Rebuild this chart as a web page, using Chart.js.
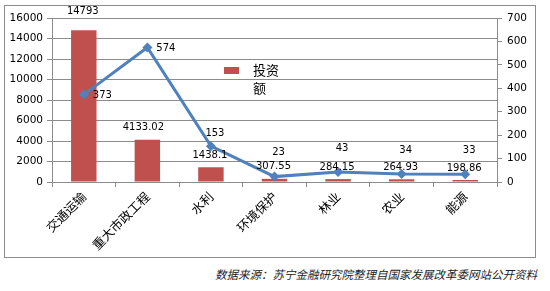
<!DOCTYPE html>
<html>
<head>
<meta charset="utf-8">
<script src="https://cdn.jsdelivr.net/npm/chart.js@4"></script>
<style>
  html, body { margin: 0; padding: 0; background: #fff; }
  body { width: 550px; height: 291px; position: relative; overflow: hidden; }
  #box {
    position: absolute; left: 4px; top: 5px;
    width: 530px; height: 251px;
    border: 1px solid #8c8c8c;
  }
  #legend {
    position: absolute; left: 224px; top: 61px;
    font: 13px "Noto Sans CJK SC", sans-serif; color: #000;
    line-height: 18px;
  }
  #legend .sw {
    position: absolute; left: 0; top: 6px; width: 15px; height: 7px;
    background: #C0504D;
  }
  #legend .tx { position: absolute; left: 29px; top: 0; width: 30px; }
  #source {
    position: absolute; left: 215px; top: 266px;
    font: italic 11.5px "Noto Sans CJK SC", sans-serif; color: #222;
    white-space: nowrap;
  }
</style>
</head>
<body>
<div id="box"><canvas id="chart" width="530" height="251"></canvas></div>
<div id="legend"><div class="sw"></div><div class="tx">投资额</div></div>
<div id="source">数据来源：苏宁金融研究院整理自国家发展改革委网站公开资料</div>
<script>
// ─── Data ─────────────────────────────────────────────────────────────────────

const categories = ["交通运输", "重大市政工程", "水利", "环境保护", "林业", "农业", "能源"];
const investment = [14793, 4133.02, 1438.1, 307.55, 284.15, 264.93, 198.86];   // 投资额
const projects   = [373, 574, 153, 23, 43, 34, 33];                              // 项目数
const investLabels = ["14793", "4133.02", "1438.1", "307.55", "284.15", "264.93", "198.86"];
const leftTicks  = [0, 2000, 4000, 6000, 8000, 10000, 12000, 14000, 16000];
const rightTicks = [0, 100, 200, 300, 400, 500, 600, 700];

// ─── Colors ───────────────────────────────────────────────────────────────────

const BAR_RED   = "#C0504D";
const LINE_BLUE = "#4F81BD";
const GRID_GREY = "#8c8c8c";
const NUM_FONT  = "DejaVu Sans";

// ─── Value labels drawn next to the marks ─────────────────────────────────────

const valueLabels = {
  id: "valueLabels",
  afterDatasetsDraw(chart) {
    const ctx = chart.ctx;
    ctx.save();
    ctx.font = "10px " + NUM_FONT;
    ctx.fillStyle = "#000";
    ctx.textBaseline = "middle";

    // bar values above each bar
    chart.getDatasetMeta(0).data.forEach((bar, i) => {
      ctx.textAlign = "center";
      const dy = i === 0 ? -19 : -12;
      ctx.fillText(investLabels[i], bar.x - (i === 1 ? 4 : 1), bar.y + dy);
    });

    // line values: first two to the right, the rest above
    chart.getDatasetMeta(1).data.forEach((pt, i) => {
      const v = String(projects[i]);
      if (i < 2) {
        ctx.textAlign = "left";
        ctx.fillText(v, pt.x + 9, pt.y + 1);
      } else {
        ctx.textAlign = "center";
        ctx.fillText(v, pt.x + 4, pt.y + (i === 2 ? -13 : -24));
      }
    });
    ctx.restore();
  }
};

// ─── Chart ────────────────────────────────────────────────────────────────────

new Chart(document.getElementById("chart").getContext("2d"), {
  data: {
    labels: categories,
    datasets: [
      {
        type: "bar",
        label: "投资额",
        data: investment,
        backgroundColor: BAR_RED,
        borderWidth: 0,
        barPercentage: 0.4,
        categoryPercentage: 1,
        yAxisID: "y",
        order: 2,
      },
      {
        type: "line",
        label: "项目数",
        data: projects,
        borderColor: LINE_BLUE,
        backgroundColor: LINE_BLUE,
        borderWidth: 3,
        pointStyle: "rectRot",
        pointRadius: 5,
        pointBorderWidth: 0,
        tension: 0,
        yAxisID: "y1",
        order: 1,
      }
    ]
  },
  options: {
    responsive: false,
    animation: false,
    layout: { padding: { top: 12, left: 0, right: 0, bottom: 0 } },
    plugins: {
      legend: { display: false },
      tooltip: { enabled: false },
    },
    scales: {
      x: {
        offset: true,
        grid: {
          display: true, offset: true, drawOnChartArea: false,
          tickLength: 5, color: GRID_GREY,
        },
        border: { color: GRID_GREY },
        ticks: {
          minRotation: 45, maxRotation: 45, padding: 2,
          color: "#000",
          font: { family: "Noto Sans CJK SC", size: 12.5 },
        },
        afterFit(s) { s.height = 75; },
      },
      y: {
        position: "left",
        min: 0, max: 16000,
        afterBuildTicks(s) { s.ticks = leftTicks.map(v => ({ value: v })); },
        grid: { color: GRID_GREY, tickLength: 5 },
        border: { color: GRID_GREY },
        ticks: {
          color: "#000", padding: 4,
          font: { family: NUM_FONT, size: 10.5 },
          callback: v => String(v),
        },
        afterFit(s) { s.width = 47; },
      },
      y1: {
        position: "right",
        min: 0, max: 700,
        afterBuildTicks(s) { s.ticks = rightTicks.map(v => ({ value: v })); },
        grid: { drawOnChartArea: false, color: GRID_GREY, tickLength: 5 },
        border: { color: GRID_GREY },
        ticks: {
          color: "#000", padding: 5,
          font: { family: NUM_FONT, size: 10.5 },
          callback: v => String(v),
        },
        afterFit(s) { s.width = 38; },
      }
    }
  },
  plugins: [valueLabels]
});
</script>
</body>
</html>
